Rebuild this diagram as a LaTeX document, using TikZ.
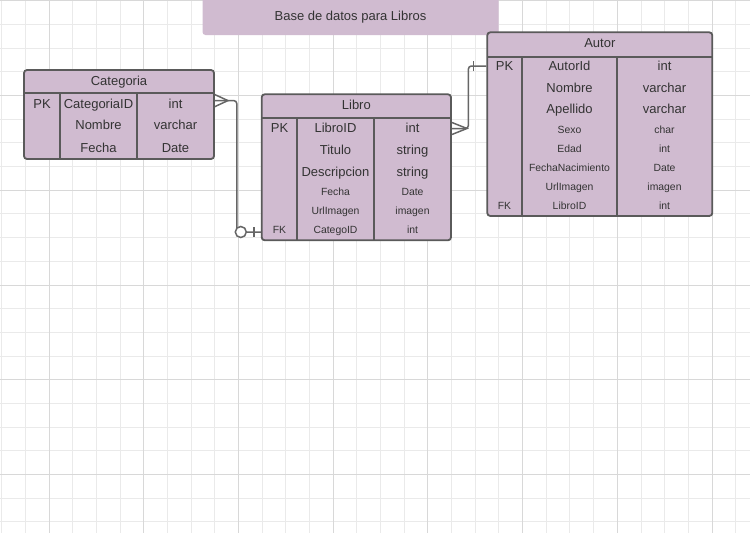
\documentclass[tikz,border=0pt]{standalone}
\usepackage{fontspec}
\setmainfont{Liberation Sans}
\usetikzlibrary{calc}

\definecolor{lila}{HTML}{D0BBD0}
\definecolor{borde}{HTML}{5A5A5A}
\definecolor{conector}{HTML}{666666}
\definecolor{texto}{HTML}{333333}
\definecolor{rejilla}{HTML}{EAEAEA}
\definecolor{rejillaosc}{HTML}{D8D8D8}

\begin{document}
\begin{tikzpicture}[x=1pt,y=-1pt,
	entity/.style={draw=borde,fill=lila,line width=1.8pt,rounded corners=3pt,inner sep=0pt},
	titulo/.style={fill=lila,rounded corners=3pt,minimum width=296pt,minimum height=38pt,text=texto,font=\fontsize{13}{15}\selectfont,text height=9.4pt,text depth=0pt},
	linea/.style={draw=borde,line width=1.8pt},
	rel/.style={draw=conector,line width=1.5pt,rounded corners=3pt},
	big/.style={font=\fontsize{13}{15}\selectfont,text=texto,text height=9.4pt,text depth=0pt,inner sep=0pt},
	small/.style={font=\fontsize{10.4}{12}\selectfont,text=texto,text height=7.5pt,text depth=0pt,inner sep=0pt}]
	
	\useasboundingbox (0,0) rectangle (750,533);
	\fill[white] (0,0) rectangle (750,533);
	
	% rejilla
	\foreach \i in {0,...,31}
	\draw[rejilla,line width=0.9pt] ({1.6+23.68*\i},0) -- ({1.6+23.68*\i},533);
	\foreach \j in {0,...,22}
	\draw[rejilla,line width=0.9pt] (0,{0.8+23.68*\j}) -- (750,{0.8+23.68*\j});
	\foreach \i in {2,6,...,30}
	\draw[rejillaosc,line width=0.9pt] ({1.6+23.68*\i},0) -- ({1.6+23.68*\i},533);
	\foreach \j in {0,4,...,20}
	\draw[rejillaosc,line width=0.9pt] (0,{0.8+23.68*\j}) -- (750,{0.8+23.68*\j});
	
	\node[titulo] (titulo) at (350.5,16) {Base de datos para Libros};
	
	% Categoria
	\node[entity,minimum width=190pt,minimum height=89pt] (cat) at (119,114.5) {};
	\node[big] (cat-titulo) at (119,80.7) {Categoria};
	\draw[linea] (24,93.3) -- (214,93.3) (60,93.3) -- (60,159) (137,93.3) -- (137,159);
	\node[big] (cat-pk) at (42,103.3) {PK};
	\foreach \n/\y/\campo/\tipo/\tam in {1/103.3/CategoriaID/int/big,2/125/Nombre/varchar/big,3/147.3/Fecha/Date/big}{
		\node[\tam] (cat-c\n) at (98.5,\y) {\campo};
		\node[\tam] (cat-t\n) at (175.5,\y) {\tipo};
	}
	
	% Libro
	\node[entity,minimum width=189.3pt,minimum height=146pt] (libro) at (356.35,167.3) {};
	\node[big] (lib-titulo) at (356.35,105) {Libro};
	\draw[linea] (261.7,117.7) -- (451,117.7) (297,117.7) -- (297,240.3) (374,117.7) -- (374,240.3);
	\node[big] (lib-pk) at (279.5,127.7) {PK};
	\node[small] (lib-fk) at (279.5,230) {FK};
	\foreach \n/\y/\campo/\tipo/\tam in {1/127.7/LibroID/int/big,2/149.3/Titulo/string/big,3/171.7/Descripcion/string/big,
		4/192/Fecha/Date/small,5/211/UrlImagen/imagen/small,6/230/CategoID/int/small}{
		\node[\tam] (lib-c\n) at (335.5,\y) {\campo};
		\node[\tam] (lib-t\n) at (412.5,\y) {\tipo};
	}
	
	% Autor
	\node[entity,minimum width=225pt,minimum height=183.7pt] (autor) at (599.8,124.15) {};
	\node[big] (aut-titulo) at (599.8,42.3) {Autor};
	\draw[linea] (487.3,56.7) -- (712.3,56.7) (522,56.7) -- (522,216) (617,56.7) -- (617,216);
	\node[big] (aut-pk) at (504.5,65.3) {PK};
	\node[small] (aut-fk) at (504.5,206) {FK};
	\foreach \n/\y/\campo/\tipo/\tam in {1/65.3/AutorId/int/big,2/87.3/Nombre/varchar/big,3/109/Apellido/varchar/big,
		4/130/Sexo/char/small,5/148.7/Edad/int/small,6/167.7/FechaNacimiento/Date/small,7/187/UrlImagen/imagen/small,8/206/LibroID/int/small}{
		\node[\tam] (aut-c\n) at (569.5,\y) {\campo};
		\node[\tam] (aut-t\n) at (664.5,\y) {\tipo};
	}
	
	% relaciones
	\coordinate (r1) at ($(cat.east |- cat-pk)+(0,-2.7)$);
	\coordinate (r2) at ($(libro.west |- lib-fk)+(0,2)$);
	\draw[rel] (r1) -| ([xshift=-24pt]r2) -- (r2);
	\draw[rel,rounded corners=0pt] ([yshift=6pt]r1) -- ([xshift=13pt]r1) -- ([yshift=-6pt]r1);
	\draw[rel,fill=white] ([xshift=-20pt]r2) circle[radius=5.5pt];
	\draw[rel] ([xshift=-7pt,yshift=5pt]r2) -- ([xshift=-7pt,yshift=-5pt]r2);
	
	\coordinate (r3) at ($(libro.east |- lib-pk)+(0,0.8)$);
	\coordinate (r4) at ($(autor.west |- aut-pk)+(0,0.7)$);
	\draw[rel] (r3) -| ([xshift=-18pt]r4) -- (r4);
	\draw[rel,rounded corners=0pt] ([yshift=6pt]r3) -- ([xshift=15pt]r3) -- ([yshift=-6pt]r3);
	\draw[rel] ([xshift=-13pt,yshift=5pt]r4) -- ([xshift=-13pt,yshift=-5pt]r4);
\end{tikzpicture}
\end{document}
